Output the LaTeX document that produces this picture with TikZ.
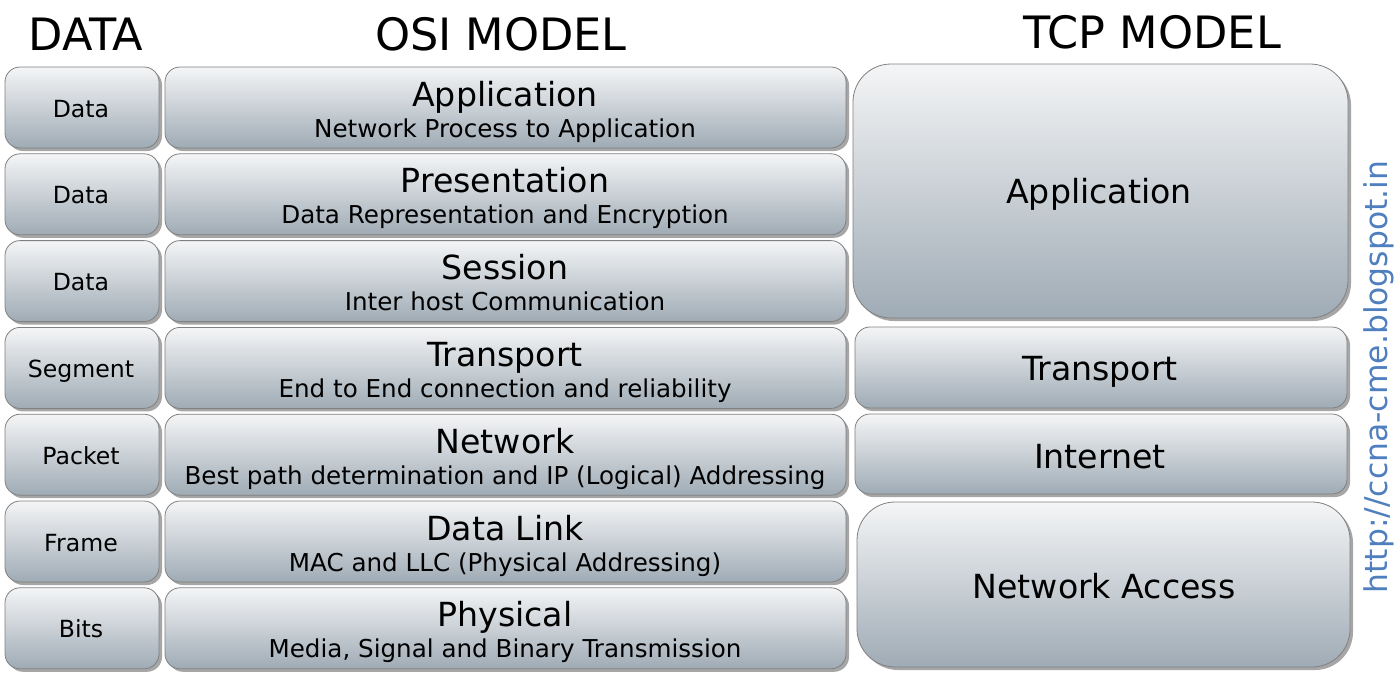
\documentclass[tikz,border=0pt]{standalone}
\usepackage{fontspec}
\setmainfont{DejaVu Sans}
\usetikzlibrary{shadows}
\definecolor{boxtop}{HTML}{F4F5F6}
\definecolor{boxbot}{HTML}{9FABB5}
\definecolor{urlblue}{HTML}{4F7FBF}
\tikzset{
 layer/.style={draw=black!50, line width=0.4pt, rounded corners=7.5pt, top color=boxtop, bottom color=boxbot,
   drop shadow={shadow xshift=1.5pt, shadow yshift=-1.5pt, opacity=0.35, fill=black}},
 bigbox/.style={layer, rounded corners=19pt},
 head/.style={anchor=base, inner sep=0pt, font=\fontsize{22.3}{25}\selectfont},
 pdu/.style={anchor=base, inner sep=0pt, text=black, font=\fontsize{11.8}{14}\selectfont},
 osititle/.style={anchor=base, inner sep=0pt, text=black, font=\fontsize{16.6}{19}\selectfont},
 osidesc/.style={anchor=base, inner sep=0pt, text=black, font=\fontsize{12.3}{14}\selectfont},
 tcp/.style={anchor=base, inner sep=0pt, text=black, font=\fontsize{16.6}{19}\selectfont},
}
\begin{document}
\begin{tikzpicture}[x=0.5pt, y=-0.5pt]
\useasboundingbox (0,0) rectangle (1400,685);
% headers
\node[head] (datahead) at (86,50) {DATA};
\node[head] (osihead) at (501,50) {OSI MODEL};
\node[head] (tcphead) at (1152,48) {TCP MODEL};
% edit here for the seven OSI layers
\foreach \i/\pdu/\name/\desc in {0/Data/Application/Network Process to Application,
  1/Data/Presentation/Data Representation and Encryption,
  2/Data/Session/Inter host Communication,
  3/Segment/Transport/End to End connection and reliability,
  4/Packet/Network/Best path determination and IP (Logical) Addressing,
  5/Frame/Data Link/MAC and LLC (Physical Addressing),
  6/Bits/Physical/{Media, Signal and Binary Transmission}}
{
\pgfmathsetmacro\ytop{67+86.8*\i}
\draw[layer] (5,\ytop) rectangle (159,\ytop+81);
\node[pdu] (pdu\i) at (81,\ytop+50) {\pdu};
\draw[layer] (165,\ytop) rectangle (846,\ytop+81);
\node[osititle] (osi\i) at (505,\ytop+39) {\name};
\node[osidesc] (desc\i) at (505,\ytop+70) {\desc};
}
% TCP model
\draw[bigbox] (853,64) rectangle (1348,318);
\node[tcp] (tcpapp) at (1099,203) {Application};
\draw[layer] (855,327) rectangle (1347,408);
\node[tcp] (tcptrans) at (1100,380) {Transport};
\draw[layer] (855,414) rectangle (1347,494);
\node[tcp] (tcpnet) at (1100,468) {Internet};
\draw[bigbox] (857,502) rectangle (1350,667);
\node[tcp] (tcpaccess) at (1104,598) {Network Access};
% url
\node[rotate=90, text=urlblue, inner sep=0pt, font=\fontsize{15.7}{18}\selectfont] (url) at (1379,377) {http://ccna-cme.blogspot.in};
\end{tikzpicture}
\end{document}
